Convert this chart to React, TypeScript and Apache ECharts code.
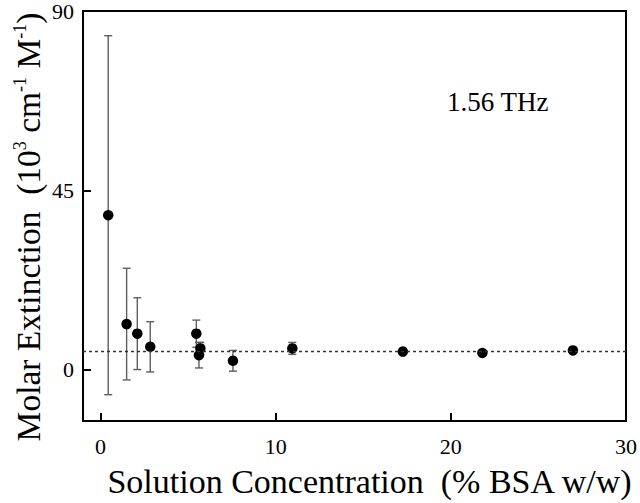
import React, { useEffect, useRef } from "react";
import * as echarts from "echarts";

const concentration = [0.44, 1.49, 2.1, 2.84, 5.47, 5.7, 5.62, 7.56, 10.95, 17.26, 21.8, 26.97];
const extinction = [38.8, 11.5, 9.1, 5.8, 9.1, 5.4, 3.7, 2.3, 5.4, 4.6, 4.25, 4.9];
const errors = [45, 14, 9, 6.3, 3.4, 1.5, 3.2, 2.6, 1.5, 0, 0, 0];
const meanLevel = 4.8;
const xTicks = [0, 10, 20, 30];
const yTicks = [0, 45, 90];
const frequencyLabel = "1.56 THz";

const FONT = "'Liberation Serif', 'Times New Roman', serif";

export default function App() {
  const ref = useRef<HTMLDivElement>(null);
  useEffect(() => {
    document.body.style.margin = "0";
    const chart = echarts.init(ref.current!, null, { renderer: "svg" });
    const points = concentration.map((x, i) => [x, extinction[i]]);
    const bars = concentration.map((x, i) => [x, extinction[i] - errors[i], extinction[i] + errors[i]]);
    chart.setOption({
      animation: false,
      backgroundColor: "#fff",
      grid: {
        left: 83,
        right: 12,
        top: 9,
        bottom: 79,
        show: true,
        borderColor: "#000",
        borderWidth: 2,
      },
      xAxis: {
        type: "value",
        min: -1,
        max: 30,
        name: "Solution Concentration  (% BSA w/w)",
        nameLocation: "middle",
        nameGap: 43,
        nameTextStyle: { fontFamily: FONT, fontSize: 34, color: "#000", padding: [0, 0, 0, 30] },
        axisLine: { show: true, onZero: false, lineStyle: { color: "#000", width: 2 } },
        axisTick: { show: true, inside: true, length: 8, customValues: xTicks, lineStyle: { color: "#000", width: 2 } },
        axisLabel: { customValues: xTicks, fontFamily: FONT, fontSize: 22, color: "#000", margin: 14 },
        splitLine: { show: false },
      },
      yAxis: {
        type: "value",
        min: -12.8,
        max: 90,
        axisLine: { show: true, onZero: false, lineStyle: { color: "#000", width: 2 } },
        axisTick: { show: true, inside: true, length: 8, customValues: yTicks, lineStyle: { color: "#000", width: 2 } },
        axisLabel: { customValues: yTicks, fontFamily: FONT, fontSize: 22, color: "#000", margin: 9 },
        splitLine: { show: false },
      },
      graphic: [
        {
          type: "text",
          x: 28,
          y: 227,
          rotation: Math.PI / 2,
          style: {
            text: "{t|Molar Extinction  (10}{s|3}{t| cm}{s|-1}{t| M}{s|-1}{t|)}",
            align: "center",
            verticalAlign: "middle",
            fill: "#000",
            rich: {
              t: { fontFamily: FONT, fontSize: 33.5, fill: "#000" },
              s: { fontFamily: FONT, fontSize: 18, fill: "#000", verticalAlign: "top", padding: [0, 0, 14, 0] },
            },
          },
        },
        {
          type: "text",
          x: 447,
          y: 102,
          style: {
            text: frequencyLabel,
            fontFamily: FONT,
            fontSize: 27,
            fill: "#000",
            align: "left",
            verticalAlign: "middle",
          },
        },
      ],
      series: [
        {
          type: "custom",
          data: bars,
          z: 2,
          renderItem: (params: any, api: any) => {
            const x = api.value(0);
            const lo = api.value(1);
            const hi = api.value(2);
            const pt = api.coord([x, hi]);
            const pb = api.coord([x, lo]);
            const w = 4;
            const st = { stroke: "#5e5e5e", lineWidth: 1.4 };
            return {
              type: "group",
              children: [
                { type: "line", shape: { x1: pt[0], y1: pt[1], x2: pb[0], y2: pb[1] }, style: st },
                { type: "line", shape: { x1: pt[0] - w, y1: pt[1], x2: pt[0] + w, y2: pt[1] }, style: st },
                { type: "line", shape: { x1: pb[0] - w, y1: pb[1], x2: pb[0] + w, y2: pb[1] }, style: st },
              ],
            };
          },
        },
        {
          type: "scatter",
          data: points,
          symbol: "circle",
          symbolSize: 10.5,
          z: 3,
          itemStyle: { color: "#000", opacity: 1 },
          markLine: {
            silent: true,
            symbol: "none",
            label: { show: false },
            lineStyle: { color: "#333", type: [3, 3], width: 1.3 },
            data: [{ yAxis: meanLevel }],
          },
        },
      ],
    });
    return () => chart.dispose();
  }, []);
  return <div ref={ref} style={{ width: 640, height: 503 }} />;
}
